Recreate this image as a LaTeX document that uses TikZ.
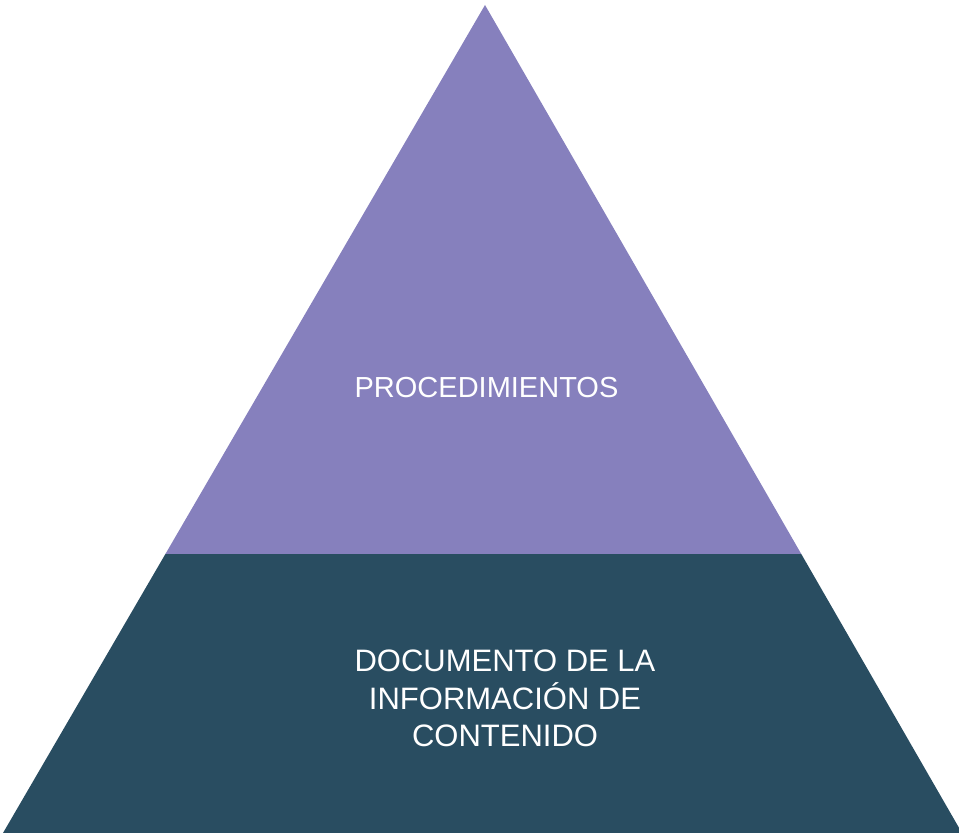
\documentclass[tikz,border=0pt]{standalone}
\usepackage{fontspec}
\setmainfont{Liberation Sans}
\usetikzlibrary{calc}
\definecolor{procpurple}{RGB}{134,128,189}
\definecolor{docblue}{RGB}{41,77,97}
\begin{document}
\begin{tikzpicture}[x=1pt,y=1pt]
\newcommand{\Split}{0.337}
\useasboundingbox (0,0) rectangle (959,833);
\coordinate (Apex) at (485,828);
\coordinate (BL) at (3,0);
\coordinate (BR) at (962,0);
\coordinate (ML) at ($(BL)!\Split!(Apex)$);
\coordinate (MR) at ($(BR)!\Split!(Apex)$);

\fill[docblue] (BL) -- (BR) -- (MR) -- (ML) -- cycle;% Bottom Layer
\fill[procpurple] (ML) -- (MR) -- (Apex) -- cycle;% Top Layer

\node[text=white,inner sep=0pt,font={\fontsize{29}{34}\selectfont}] (proc) at (486.5,445) {PROCEDIMIENTOS};
\node[text=white,inner sep=0pt,anchor=north,align=center,font={\fontsize{31}{37.5}\selectfont}] (doc) at (505,183) {DOCUMENTO DE LA\\INFORMACIÓN DE\\CONTENIDO};
\end{tikzpicture}
\end{document}
